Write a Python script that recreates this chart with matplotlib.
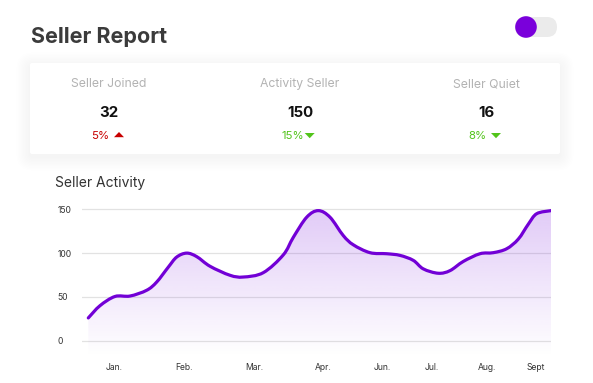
import matplotlib
matplotlib.use('Agg')
import matplotlib.pyplot as plt
from matplotlib.path import Path
from matplotlib.patches import PathPatch, FancyBboxPatch, Circle, Polygon
import numpy as np

plt.rcParams['font.family'] = ['Inter', 'DejaVu Sans']

# seller activity curve (x = position on the time axis)
act_x = [6.3, 18, 33, 48, 64.7, 74.7, 86.3, 94.7, 104.7, 114.7, 128, 148, 161.3,
         181.3, 201.3, 211.3, 224.7, 236.3, 248, 261.3, 271.3, 288, 304.7, 318,
         331.3, 341.3, 356.3, 368, 381.3, 398, 411.3, 424.7, 436.3, 446.3, 454.7, 469]
act_y = [26, 40, 50.5, 51, 57.6, 67, 84, 95.5, 100, 96, 85, 74.7, 72.7,
         77.7, 98, 118, 141, 148.5, 141, 120, 109.5, 100.5, 99.3, 97.4,
         91.7, 82, 77, 80, 90.5, 99.3, 100.5, 105, 116, 133, 145, 148.5]

month_labels = ['Jan.', 'Feb.', 'Mar.', 'Apr.', 'Jun.', 'Jul.', 'Aug.', 'Sept']
month_pos = [32, 102.3, 172.3, 241.7, 300.3, 350.3, 405.3, 454]
y_ticks = [0, 50, 100, 150]

card_titles = ['Seller Joined', 'Activity Seller', 'Seller Quiet']
card_values = ['32', '150', '16']
card_change = ['5%', '15%', '8%']
card_up = [True, False, False]

purple = '#7200d6'
red = '#c80000'
green = '#52c41a'

fig = plt.figure(figsize=(5.93, 3.83), dpi=100)
fig.patch.set_facecolor('white')

# overlay in pixel coordinates for the header / card
ov = fig.add_axes([0, 0, 1, 1], zorder=0)
ov.set_xlim(0, 593)
ov.set_ylim(383, 0)
ov.axis('off')

ov.text(31, 43.3, 'Seller Report', fontsize=15.5, fontweight='bold', color='#3b3b3b', va='baseline')

# toggle
ov.add_patch(FancyBboxPatch((515, 17), 42, 20, boxstyle='round,pad=0,rounding_size=10',
                            fc='#ebebeb', ec='none'))
ov.add_patch(Circle((526, 27), 10.8, fc='#7a00db', ec='none'))

# card with soft shadow
for i in range(10):
    g = 1 + i * 1.4
    ov.add_patch(FancyBboxPatch((30 - g, 63 - g + 3), 530 + 2 * g, 91 + 2 * g,
                                boxstyle='round,pad=0,rounding_size=%f' % (3 + g),
                                fc='black', ec='none', alpha=0.0045))
ov.add_patch(FancyBboxPatch((30, 63), 530, 91, boxstyle='round,pad=0,rounding_size=2',
                            fc='white', ec='none'))

col_x = [109, 300, 486]
pct_right = [109, 304, 486.7]
tri_x = [119, 309.7, 496]
for i in range(3):
    ov.text(col_x[i], 87.3, card_titles[i], fontsize=8.8, color='#b3b3b3', ha='center', va='baseline')
    ov.text(col_x[i], 116.7, card_values[i], fontsize=10.8, fontweight='bold', color='#111111',
            ha='center', va='baseline')
    c = red if card_up[i] else green
    ov.text(pct_right[i], 139, card_change[i], fontsize=8.2, color=c, ha='right', va='baseline')
    tx = tri_x[i]
    if card_up[i]:
        pts = [(tx - 5, 137.2), (tx + 5, 137.2), (tx, 132)]
    else:
        pts = [(tx - 5, 133), (tx + 5, 133), (tx, 138.2)]
    ov.add_patch(Polygon(pts, closed=True, fc=c, ec='none'))

ov.text(55, 186.7, 'Seller Activity', fontsize=10, color='#333333', va='baseline')

# chart
ymin, ymax = -18.6, 155.5
ax = fig.add_axes([82 / 593, (383 - 357) / 383, 469 / 593, (357 - 204.5) / 383], zorder=1)
ax.set_facecolor('none')
ax.set_xlim(0, 469)
ax.set_ylim(ymin, ymax)
for s in ax.spines.values():
    s.set_visible(False)
ax.set_yticks(y_ticks)
ax.set_yticklabels([str(v) for v in y_ticks])
ax.tick_params(axis='y', length=0, pad=17.6, labelsize=6.2, labelcolor='#333333')
for lab in ax.get_yticklabels():
    lab.set_ha('left')
ax.set_xticks(month_pos)
ax.set_xticklabels(month_labels)
ax.tick_params(axis='x', length=0, pad=4.5, labelsize=6.2, labelcolor='#333333')
ax.grid(axis='y', color='#e2e2e2', lw=0.9)
ax.set_axisbelow(True)

# smooth path through the points (catmull-rom as bezier segments)
P = np.column_stack([act_x, act_y])
verts = [tuple(P[0])]
codes = [Path.MOVETO]
n = len(P)
for i in range(n - 1):
    p0 = P[i - 1] if i > 0 else P[i]
    p1 = P[i]
    p2 = P[i + 1]
    p3 = P[i + 2] if i + 2 < n else P[i + 1]
    c1 = p1 + (p2 - p0) / 6
    c2 = p2 - (p3 - p1) / 6
    verts += [tuple(c1), tuple(c2), tuple(p2)]
    codes += [Path.CURVE4] * 3
line_path = Path(verts, codes)

fill_verts = verts + [(act_x[-1], ymin), (act_x[0], ymin), verts[0]]
fill_codes = codes + [Path.LINETO, Path.LINETO, Path.CLOSEPOLY]
fill_patch = PathPatch(Path(fill_verts, fill_codes), fc='none', ec='none')
ax.add_patch(fill_patch)

grad = np.zeros((256, 1, 4))
grad[:, 0, 0] = 120 / 255
grad[:, 0, 1] = 20 / 255
grad[:, 0, 2] = 220 / 255
grad[:, 0, 3] = np.linspace(0, 0.22, 256)
im = ax.imshow(grad, extent=[act_x[0], act_x[-1], ymin, max(act_y)], origin='lower',
               aspect='auto', interpolation='bicubic', zorder=2)
im.set_clip_path(fill_patch)

ax.add_patch(PathPatch(line_path, fc='none', ec=purple, lw=2.3, capstyle='round', zorder=3))

plt.savefig('out.png', dpi=100, facecolor='white')
